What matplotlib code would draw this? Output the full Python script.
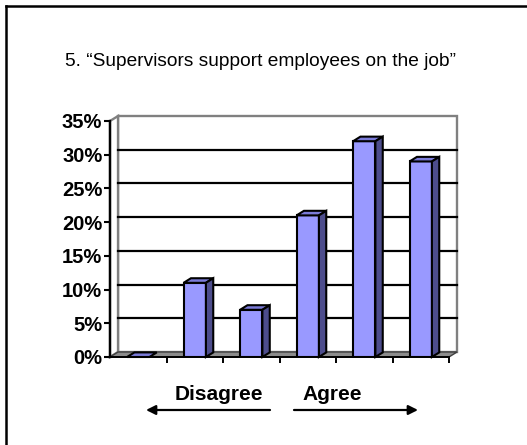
import matplotlib.pyplot as plt
from matplotlib.patches import Polygon
from matplotlib.lines import Line2D

plt.rcParams['font.family'] = ['Liberation Sans', 'DejaVu Sans']

# answer scale from strongly disagree (left) to strongly agree (right)
categories = [1, 2, 3, 4, 5, 6]
values = [0, 11, 7, 21, 32, 29]
yticks = [0, 5, 10, 15, 20, 25, 30, 35]
ylabels = ['0%', '5%', '10%', '15%', '20%', '25%', '30%', '35%']
title = '5. \u201cSupervisors support employees on the job\u201d'

W, H = 527, 445
fig = plt.figure(figsize=(W / 100, H / 100), dpi=100)
ax = fig.add_axes([110 / W, 88 / H, 339 / W, 236 / H])
ax.set_xlim(0, len(categories))
ax.set_ylim(0, 35)
ax.set_facecolor('none')

# fake 3d: depth offset of the walls and of the columns (data units)
DX, DY = 0.142, 0.74
BDX, BDY = 0.13, 0.68
BW = 0.395
n = len(categories)


def face(pts, fc, ec='black', lw=1.5, z=3):
    ax.add_patch(Polygon(pts, closed=True, fc=fc, ec=ec, lw=lw, zorder=z,
                         clip_on=False, joinstyle='miter'))


# walls and floor
face([(DX, DY), (n + DX, DY), (n + DX, 35 + DY), (DX, 35 + DY)], 'white', '#808080', 1.7, 0.5)
face([(0, 0), (DX, DY), (DX, 35 + DY), (0, 35)], 'white', '#808080', 1.7, 0.5)
for v in yticks[1:-1]:
    ax.plot([DX, n + DX], [v + DY, v + DY], color='black', lw=1.6,
            clip_on=False, zorder=1)
face([(0, 0), (n, 0), (n + DX, DY), (DX, DY)], '#8c8c8c', '#404040', 1.0, 1.5)

# columns
xs = [c - 0.5 for c in categories]
bars = ax.bar(xs, values, width=BW, color='#9999ff', edgecolor='black',
              linewidth=1.5, zorder=3)
for b, v in zip(bars, values):
    x0 = b.get_x()
    x1 = x0 + b.get_width()
    face([(x0, v), (x1, v), (x1 + BDX, v + BDY), (x0 + BDX, v + BDY)], '#7b7bd8')
    if v > 0:
        face([(x1, 0), (x1 + BDX, BDY), (x1 + BDX, v + BDY), (x1, v)], '#4d4d8c')

# axes
for s in ['top', 'right']:
    ax.spines[s].set_visible(False)
ax.spines['left'].set_linewidth(1.7)
ax.spines['bottom'].set_linewidth(1.4)
ax.spines['left'].set_zorder(5)
ax.spines['bottom'].set_zorder(5)
ax.set_yticks(yticks)
ax.set_yticklabels(ylabels, fontweight='bold', fontsize=14.5)
ax.set_xticks(categories)
ax.set_xticklabels([''] * n)
ax.tick_params(axis='y', direction='out', length=4, width=1.5, pad=1.5)
ax.tick_params(axis='x', direction='out', length=4, width=1.4)

fig.text(65 / W, 1 - 66 / H, title, fontsize=13.8, ha='left', va='baseline')
fig.text(175 / W, 1 - 400 / H, 'Disagree', fontsize=15, fontweight='bold',
         ha='left', va='baseline')
fig.text(302 / W, 1 - 400 / H, 'Agree', fontsize=15, fontweight='bold',
         ha='left', va='baseline')
arrow = dict(arrowstyle='-|>', color='black', lw=1.6, mutation_scale=14,
             shrinkA=0, shrinkB=0)
ax.annotate('', xy=(146, H - 410), xytext=(270, H - 410),
            xycoords='figure pixels', arrowprops=arrow)
ax.annotate('', xy=(418, H - 410), xytext=(294, H - 410),
            xycoords='figure pixels', arrowprops=arrow)

# frame (top and left edges)
fig.add_artist(Line2D([5.5 / W, 1], [1 - 5.5 / H] * 2, transform=fig.transFigure,
                      color='black', lw=1.8))
fig.add_artist(Line2D([5.5 / W] * 2, [0, 1 - 5.5 / H], transform=fig.transFigure,
                      color='black', lw=1.8))

fig.savefig('out.png', dpi=100)
